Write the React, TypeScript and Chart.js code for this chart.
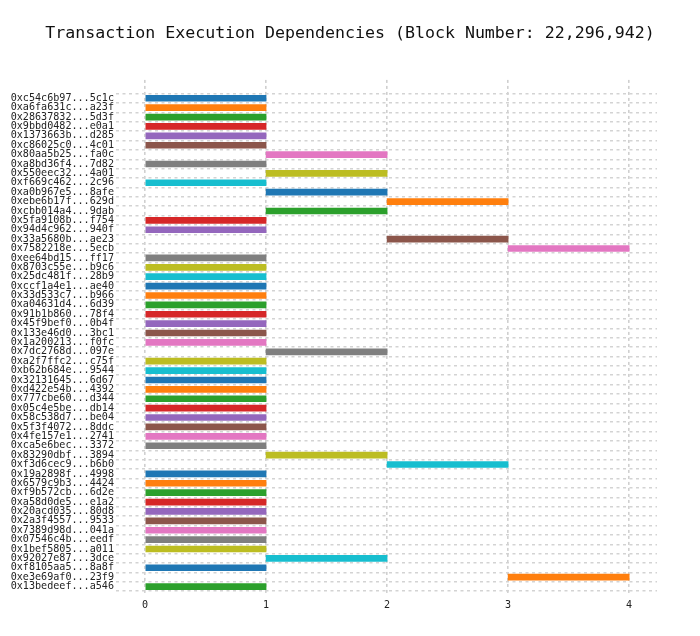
import React, { useEffect, useRef } from "react";
import { Chart, registerables } from "chart.js";

Chart.register(...registerables);

const titleText = "Transaction Execution Dependencies (Block Number: 22,296,942)";

const txLabels: string[] = [
  "0xc54c6b97...5c1c", "0xa6fa631c...a23f", "0x28637832...5d3f", "0x9bbd0482...e0a1",
  "0x1373663b...d285", "0xc86025c0...4c01", "0x80aa5b25...fa0c", "0xa8bd36f4...7d82",
  "0x550eec32...4a01", "0xf669c462...2c96", "0xa0b967e5...8afe", "0xebe6b17f...629d",
  "0xcbb014a4...9dab", "0x5fa9108b...f754", "0x94d4c962...940f", "0x33a5680b...ae23",
  "0x7582218e...5ecb", "0xee64bd15...ff17", "0x8703c55e...b9c6", "0x25dc481f...28b9",
  "0xccf1a4e1...ae40", "0x33d533c7...b966", "0xa04631d4...6d39", "0x91b1b860...78f4",
  "0x45f9bef0...0b4f", "0x133e46d0...3bc1", "0x1a200213...f0fc", "0x7dc2768d...097e",
  "0xa2f7ffc2...c75f", "0xb62b684e...9544", "0x32131645...6d67", "0xd422e54b...4392",
  "0x777cbe60...d344", "0x05c4e5be...db14", "0x58c538d7...be04", "0x5f3f4072...8ddc",
  "0x4fe157e1...2741", "0xca5e6bec...3372", "0x83290dbf...3894", "0xf3d6cec9...b6b0",
  "0x19a2898f...4998", "0x6579c9b3...4424", "0xf9b572cb...6d2e", "0xa58d0de5...e1a2",
  "0x20acd035...80d8", "0x2a3f4557...9533", "0x7389d98d...041a", "0x07546c4b...eedf",
  "0x1bef5805...a011", "0x92027e87...3dce", "0xf8105aa5...8a8f", "0xe3e69af0...23f9",
  "0x13bedeef...a546",
];

const startSteps: number[] = [
  0, 0, 0, 0, 0, 0, 1, 0, 1, 0,
  1, 2, 1, 0, 0, 2, 3, 0, 0, 0,
  0, 0, 0, 0, 0, 0, 0, 1, 0, 0,
  0, 0, 0, 0, 0, 0, 0, 0, 1, 2,
  0, 0, 0, 0, 0, 0, 0, 0, 0, 1,
  0, 3, 0,
];

const endSteps: number[] = [
  1, 1, 1, 1, 1, 1, 2, 1, 2, 1,
  2, 3, 2, 1, 1, 3, 4, 1, 1, 1,
  1, 1, 1, 1, 1, 1, 1, 2, 1, 1,
  1, 1, 1, 1, 1, 1, 1, 1, 2, 3,
  1, 1, 1, 1, 1, 1, 1, 1, 1, 2,
  1, 4, 1,
];

const stepTicks: number[] = [0, 1, 2, 3, 4];

const palette: string[] = [
  "#1f77b4", "#ff7f0e", "#2ca02c", "#d62728", "#9467bd",
  "#8c564b", "#e377c2", "#7f7f7f", "#bcbd22", "#17becf",
];

const MONO = "'DejaVu Sans Mono', monospace";

// Centre the built-in title across the whole canvas rather than the padded box.
const centerTitle = {
  id: "centerTitle",
  afterLayout(chart: any) {
    const t = chart.titleBlock;
    if (t) {
      t.left = 0;
      t.right = chart.width;
      t.width = chart.width;
    }
  },
};

export default function App() {
  const canvasRef = useRef<HTMLCanvasElement | null>(null);

  useEffect(() => {
    if (!canvasRef.current) return;
    const data = txLabels.map((_, i) => ({ x: [startSteps[i], endSteps[i]], y: i }));
    const colors = txLabels.map((_, i) => palette[i % palette.length]);
    const chart = new Chart(canvasRef.current, {
      type: "bar",
      data: {
        datasets: [
          {
            data: data as any,
            backgroundColor: colors,
            borderWidth: 0,
            barThickness: 6,
          },
        ],
      },
      plugins: [centerTitle],
      options: {
        animation: false,
        responsive: false,
        devicePixelRatio: 1,
        indexAxis: "y",
        layout: { padding: { left: 0, right: 35, top: 0, bottom: 0 } },
        plugins: {
          legend: { display: false },
          tooltip: { enabled: false },
          title: {
            display: true,
            text: titleText,
            color: "#111",
            font: { family: MONO, size: 16.6, weight: "normal", lineHeight: 1.2 },
            padding: { top: 16, bottom: 36 },
          },
        },
        scales: {
          x: {
            type: "linear",
            min: -0.24,
            max: 4.23,
            afterBuildTicks: (axis: any) => {
              axis.ticks = stepTicks.map((v) => ({ value: v }));
            },
            afterFit: (axis: any) => {
              axis.height = 35;
            },
            ticks: {
              autoSkip: false,
              padding: 6,
              color: "#222",
              font: { family: MONO, size: 10.1 },
              callback: (v: any) => String(v),
            },
            grid: { color: "#cfcfcf", lineWidth: 1.6, drawTicks: false },
            border: { display: false, dash: [3, 3] },
          },
          y: {
            type: "linear",
            reverse: true,
            min: -1.44,
            max: 52.17,
            afterBuildTicks: (axis: any) => {
              axis.ticks = txLabels.map((_, i) => ({ value: i }));
            },
            afterFit: (axis: any) => {
              axis.width = 108;
            },
            ticks: {
              autoSkip: false,
              padding: 2,
              color: "#222",
              font: { family: MONO, size: 10.1, lineHeight: 1 },
              callback: (v: any) => txLabels[v] ?? "",
            },
            grid: { color: "#d3d3d3", lineWidth: 1.6, drawTicks: false },
            border: { display: false, dash: [3, 3.5] },
          },
        },
      } as any,
    });
    return () => chart.destroy();
  }, []);

  return (
    <div style={{ width: 684, height: 620 }}>
      <canvas ref={canvasRef} width={684} height={620} style={{ display: "block" }} />
    </div>
  );
}
